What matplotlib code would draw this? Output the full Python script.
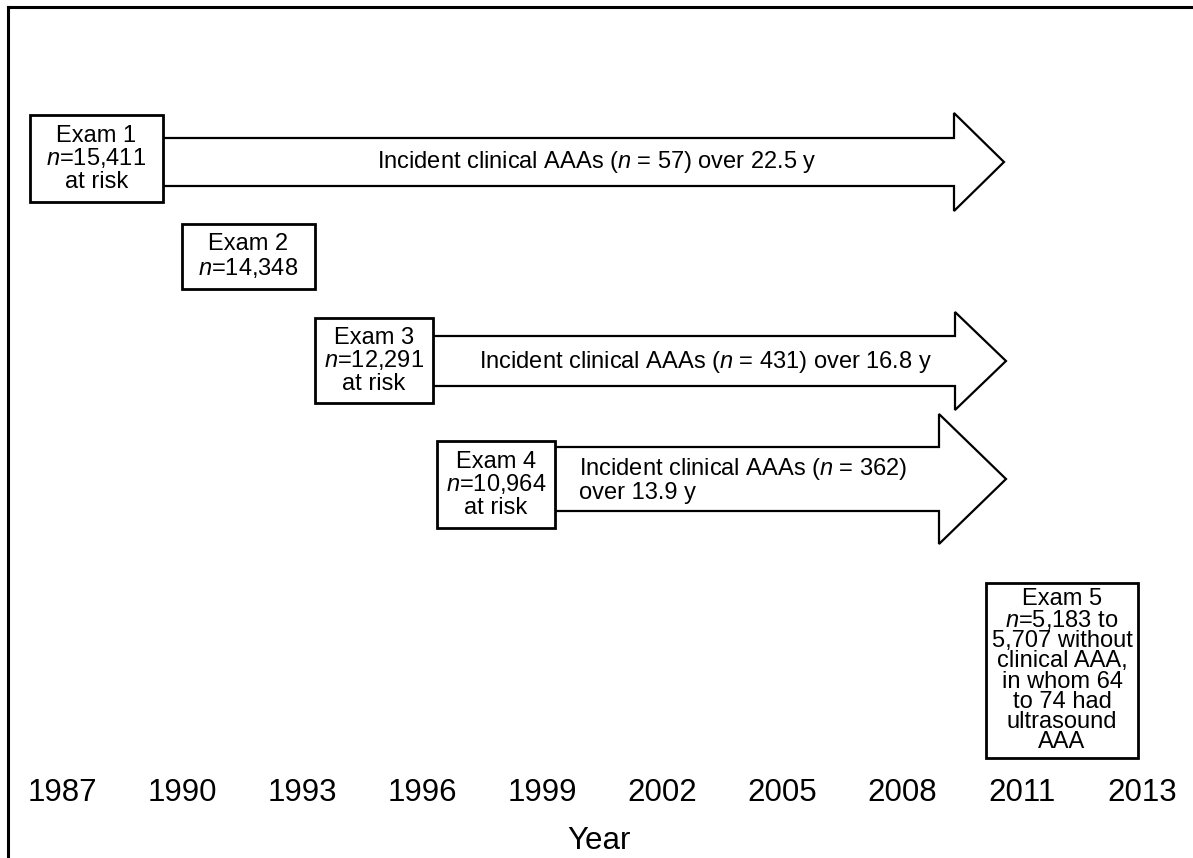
import matplotlib
matplotlib.use('Agg')
import matplotlib.pyplot as plt
from matplotlib.patches import Rectangle, Polygon
import numpy as np

plt.rcParams['font.family'] = ['Liberation Sans', 'DejaVu Sans']
plt.rcParams['mathtext.fontset'] = 'custom'
plt.rcParams['mathtext.rm'] = 'Liberation Sans'
plt.rcParams['mathtext.it'] = 'Liberation Sans:italic'

# data
years = ['1987', '1990', '1993', '1996', '1999', '2002', '2005', '2008', '2011', '2013']
exam_names = ['Exam 1', 'Exam 2', 'Exam 3', 'Exam 4', 'Exam 5']
exam_n = ['15,411', '14,348', '12,291', '10,964',
          '5,183 to\n5,707 without\nclinical AAA,\nin whom 64\nto 74 had\nultrasound\nAAA']
exam_at_risk = [True, False, True, True, False]
incident_n = [57, 431, 362]
incident_years = [22.5, 16.8, 13.9]

# layout (pixel coords of the canvas, y down)
box_xy = [(30, 115, 163, 202), (182, 224, 315, 289), (315, 318, 433, 403),
          (437, 441, 555, 528), (986, 583, 1138, 758)]
box_linespacing = [1.0, 1.0, 1.0, 1.0, 0.9]
# x start, head base, tip, y centre, shaft half height, head half height
arrow_geom = [(163, 954, 1004, 162, 24, 49),
              (433, 955, 1006, 361, 25, 49),
              (555, 939, 1006, 479, 32, 65)]
arrow_text_pos = [(597, 162, 'center'), (706, 362, 'center'), (579, 480, 'left')]
tick_x = 62 + 120 * np.arange(len(years))

fig = plt.figure(figsize=(11.93, 8.58), dpi=100)
ax = fig.add_axes([0, 0, 1, 1])
ax.set_xlim(0, 1193)
ax.set_ylim(858, 0)

# frame (top and left only)
ax.plot([8, 1193], [7, 7], color='black', lw=2.2, solid_capstyle='projecting')
ax.plot([8, 8], [7, 858], color='black', lw=2.2, solid_capstyle='projecting')

# arrows
for (x0, xb, xt, yc, hw, hh) in arrow_geom:
    verts = [(x0, yc - hw), (xb, yc - hw), (xb, yc - hh), (xt, yc),
             (xb, yc + hh), (xb, yc + hw), (x0, yc + hw)]
    ax.add_patch(Polygon(verts, closed=True, facecolor='white',
                         edgecolor='black', lw=1.6, joinstyle='miter', zorder=2))

for i, (tx, ty, ha) in enumerate(arrow_text_pos):
    if i < 2:
        s = f'Incident clinical AAAs ($n$ = {incident_n[i]}) over {incident_years[i]} y'
    else:
        s = f'Incident clinical AAAs ($n$ = {incident_n[i]})\nover {incident_years[i]} y'
    ax.text(tx, ty, s, ha=ha, va='center', fontsize=17, linespacing=0.95, zorder=4)

# exam boxes
for i, (x0, y0, x1, y1) in enumerate(box_xy):
    ax.add_patch(Rectangle((x0, y0), x1 - x0, y1 - y0, facecolor='white',
                           edgecolor='black', lw=2.0, zorder=3))
    s = exam_names[i] + '\n$n$=' + exam_n[i]
    if exam_at_risk[i]:
        s += '\nat risk'
    ax.text((x0 + x1) / 2, (y0 + y1) / 2, s, ha='center', va='center',
            multialignment='center', fontsize=17,
            linespacing=box_linespacing[i], zorder=4)

# year axis
for sp in ax.spines.values():
    sp.set_visible(False)
ax.spines['bottom'].set_position(('data', 778))
ax.set_xticks(tick_x)
ax.set_xticklabels(years)
ax.tick_params(axis='x', length=0, pad=0, labelsize=22.5)
ax.set_yticks([])
ax.set_xlabel('Year', fontsize=22.5)
ax.xaxis.set_label_coords(599 / 1193, 1 - 841 / 858)
ax.xaxis.label.set_verticalalignment('center')

fig.savefig('out.png', dpi=100)
